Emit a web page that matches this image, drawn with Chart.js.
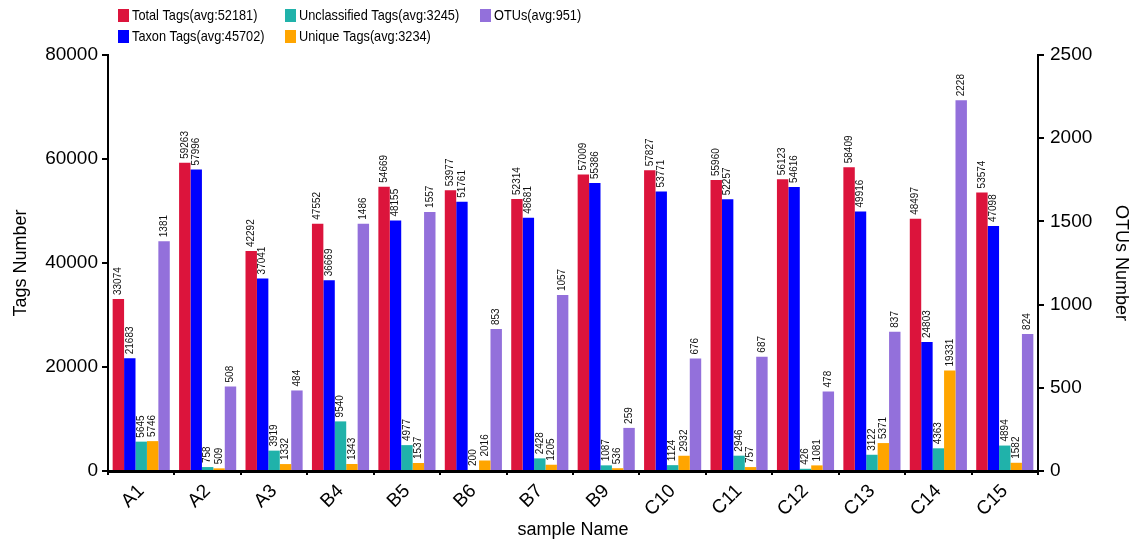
<!DOCTYPE html>
<html>
<head>
<meta charset="utf-8">
<script src="https://cdn.jsdelivr.net/npm/chart.js@4.4.1/dist/chart.umd.min.js"></script>
<style>
  html, body { margin: 0; padding: 0; background: #fff; }
  #wrap { width: 1136px; height: 545px; position: relative; }
</style>
</head>
<body>
<div id="wrap"><canvas id="c"></canvas></div>
<script>
const samples = ['A1','A2','A3','B4','B5','B6','B7','B9','C10','C11','C12','C13','C14','C15'];
const totalTags        = [33074, 59263, 42292, 47552, 54669, 53977, 52314, 57009, 57827, 55960, 56123, 58409, 48497, 53574];
const taxonTags        = [21683, 57996, 37041, 36669, 48155, 51761, 48681, 55386, 53771, 52257, 54616, 49916, 24803, 47098];
const unclassifiedTags = [5645, 758, 3919, 9540, 4977, 200, 2428, 1087, 1124, 2946, 426, 3122, 4363, 4894];
const uniqueTags       = [5746, 509, 1332, 1343, 1537, 2016, 1205, 536, 2932, 757, 1081, 5371, 19331, 1582];
const otus             = [1381, 508, 484, 1486, 1557, 853, 1057, 259, 676, 687, 478, 837, 2228, 824];
const tagTicks = [0, 20000, 40000, 60000, 80000];
const otuTicks = [0, 500, 1000, 1500, 2000, 2500];

const FONT = "'Liberation Sans', Arial, Helvetica, sans-serif";

// Legend entries laid out in a 3-column, 2-row grid (column, row)
const legendSlots = [[0,0],[0,1],[1,0],[1,1],[2,0]];
const legendCols = [118, 285, 480];
const legendRows = [15, 36];

const gridLegend = {
  id: 'gridLegend',
  afterDraw(chart) {
    const ctx = chart.ctx;
    ctx.save();
    ctx.font = '15px ' + FONT;
    ctx.textBaseline = 'middle';
    ctx.textAlign = 'left';
    chart.data.datasets.forEach((ds, i) => {
      const [c, r] = legendSlots[i];
      const x = legendCols[c], y = legendRows[r];
      ctx.fillStyle = ds.backgroundColor;
      ctx.fillRect(x, y - 6, 11, 13);
      ctx.fillStyle = '#000';
      // slightly condensed legend lettering
      ctx.save();
      ctx.translate(x + 14, y + 1);
      ctx.scale(0.85, 1);
      ctx.fillText(ds.label, 0, 0);
      ctx.restore();
    });
    ctx.restore();
  }
};

const valueLabels = {
  id: 'valueLabels',
  afterDatasetsDraw(chart) {
    const ctx = chart.ctx;
    ctx.save();
    ctx.font = '10px ' + FONT;
    ctx.fillStyle = '#111';
    ctx.textAlign = 'left';
    ctx.textBaseline = 'middle';
    chart.data.datasets.forEach((ds, di) => {
      const meta = chart.getDatasetMeta(di);
      meta.data.forEach((bar, i) => {
        const { x, y } = bar.getProps(['x', 'y'], true);
        ctx.save();
        ctx.translate(x, y - 4);
        ctx.rotate(-Math.PI / 2);
        ctx.fillText(String(ds.data[i]), 0, 0);
        ctx.restore();
      });
    });
    ctx.restore();
  }
};

const tickFont = { family: FONT, size: 19 };
const titleFont = { family: FONT, size: 18 };
const plain = v => String(v);

new Chart(document.getElementById('c'), {
  type: 'bar',
  data: {
    labels: samples,
    datasets: [
      { label: 'Total Tags(avg:52181)', data: totalTags, backgroundColor: '#DC143C', yAxisID: 'y' },
      { label: 'Taxon Tags(avg:45702)', data: taxonTags, backgroundColor: '#0000FF', yAxisID: 'y' },
      { label: 'Unclassified Tags(avg:3245)', data: unclassifiedTags, backgroundColor: '#20B2AA', yAxisID: 'y' },
      { label: 'Unique Tags(avg:3234)', data: uniqueTags, backgroundColor: '#FFA500', yAxisID: 'y' },
      { label: 'OTUs(avg:951)', data: otus, backgroundColor: '#9370DB', yAxisID: 'y1' }
    ]
  },
  options: {
    responsive: true,
    maintainAspectRatio: false,
    animation: false,
    datasets: { bar: { categoryPercentage: 0.86, barPercentage: 1.0 } },
    layout: { padding: { top: 55, left: 0, right: 0, bottom: 0 } },
    plugins: { legend: { display: false }, tooltip: { enabled: false } },
    scales: {
      x: {
        grid: { display: true, drawOnChartArea: false, offset: true, tickLength: 4, color: '#000', lineWidth: 2 },
        border: { display: true, color: '#000', width: 3 },
        ticks: { font: tickFont, color: '#000', minRotation: 45, maxRotation: 45, padding: 5 },
        title: { display: true, text: 'sample Name', font: titleFont, color: '#000', padding: { top: 0 } },
        afterFit(s) { s.height = 74; }
      },
      y: {
        position: 'left',
        min: 0, max: 80000,
        afterBuildTicks(s) { s.ticks = tagTicks.map(v => ({ value: v })); },
        grid: { display: true, drawOnChartArea: false, tickLength: 6, color: '#000', lineWidth: 2 },
        border: { display: true, color: '#000', width: 2 },
        ticks: { font: tickFont, color: '#000', padding: 4, callback: plain },
        title: { display: true, text: 'Tags Number', font: titleFont, color: '#000', padding: { top: 10 } },
        afterFit(s) { s.width = 108; }
      },
      y1: {
        position: 'right',
        min: 0, max: 2500,
        afterBuildTicks(s) { s.ticks = otuTicks.map(v => ({ value: v })); },
        grid: { display: true, drawOnChartArea: false, tickLength: 6, color: '#000', lineWidth: 2 },
        border: { display: true, color: '#000', width: 2 },
        ticks: { font: tickFont, color: '#000', padding: 6, callback: plain },
        title: { display: true, text: 'OTUs Number', font: titleFont, color: '#000', padding: { bottom: 6 } },
        afterFit(s) { s.width = 98; }
      }
    }
  },
  plugins: [valueLabels, gridLegend]
});
</script>
</body>
</html>
